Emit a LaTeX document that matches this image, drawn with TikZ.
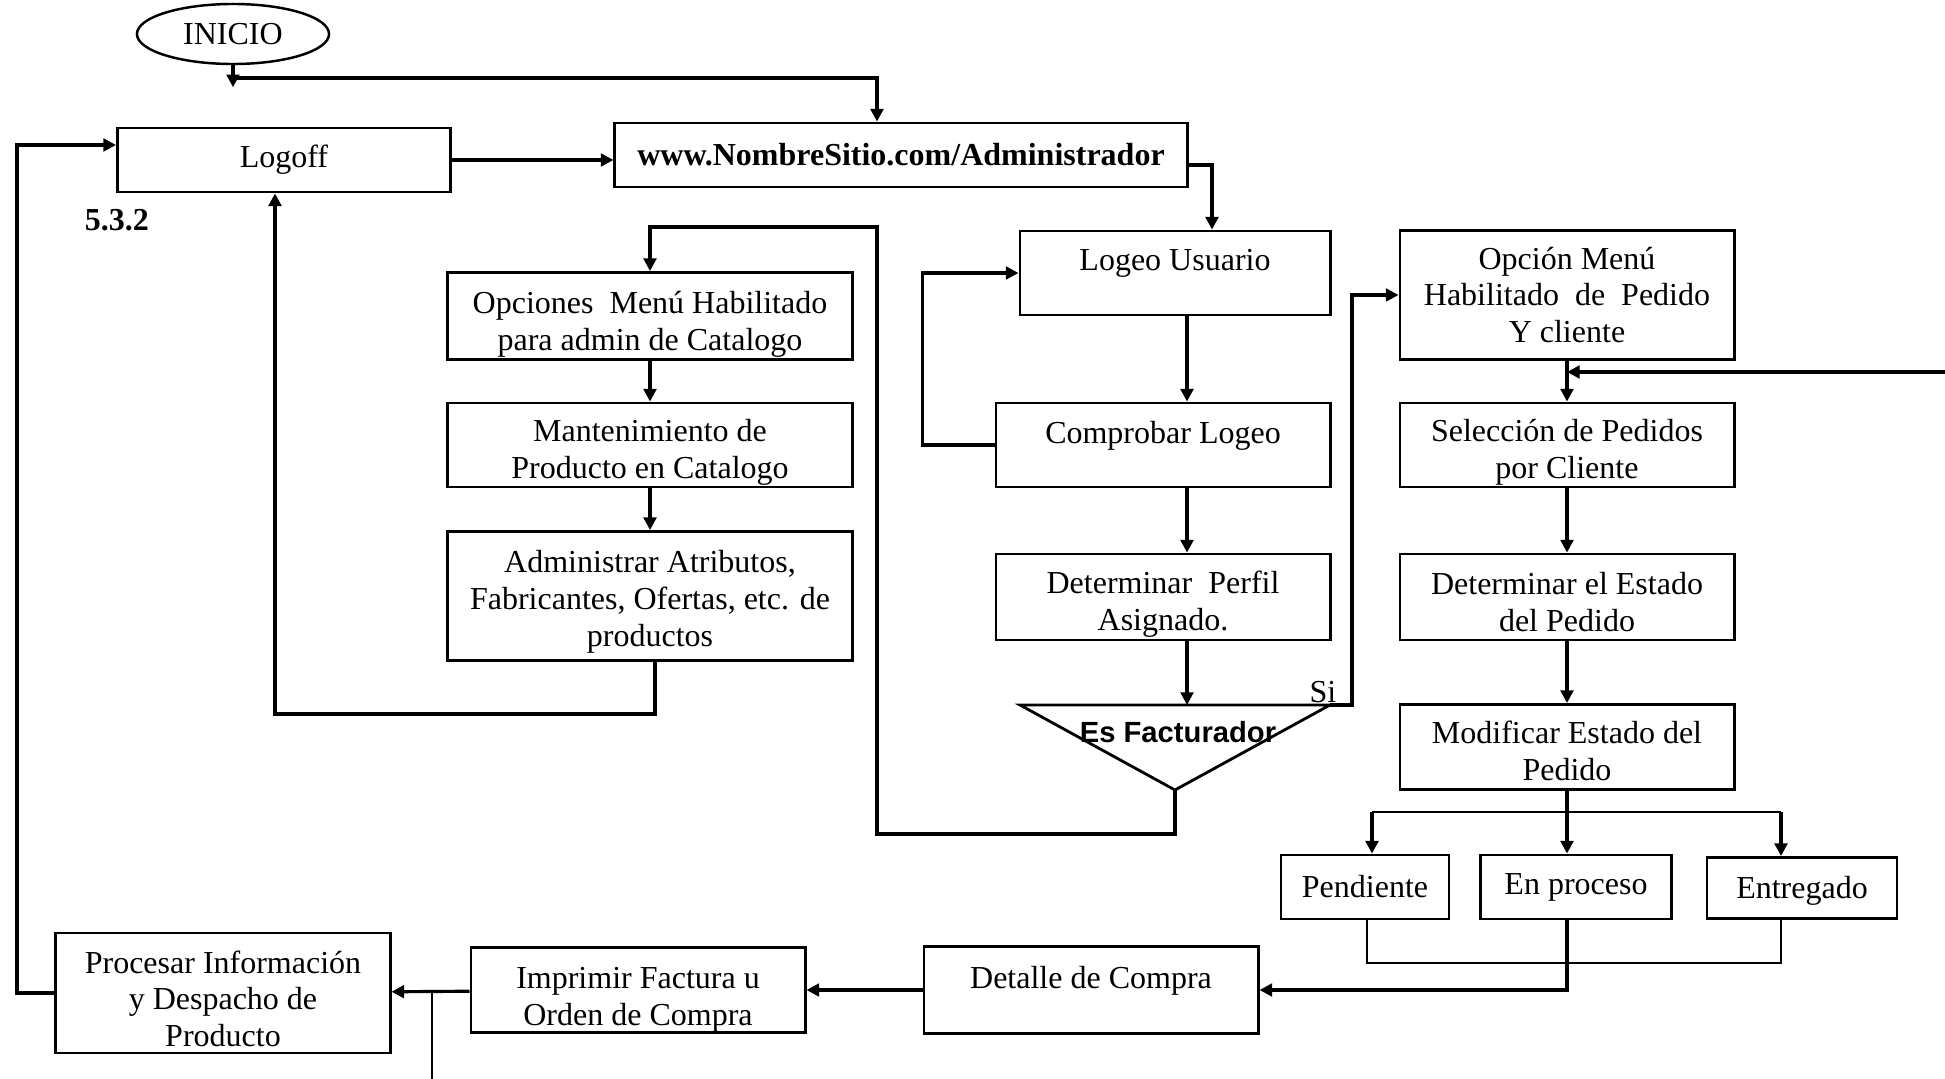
\documentclass[tikz,border=0pt]{standalone}
\usepackage{fontspec}
\setmainfont{Liberation Serif}
\newfontfamily\arialfont{Liberation Sans}
\usetikzlibrary{arrows.meta,positioning,calc,shapes.geometric}

\begin{document}
\begin{tikzpicture}[x=0.01cm, y=-0.01cm,
  box/.style={draw,line width=0.8pt,minimum width=3.34cm,minimum height=0.85cm,align=center,inner xsep=1pt,inner ysep=0pt,font=\fontsize{9.1pt}{10.5pt}\selectfont},
  upper/.style={text depth=0.26cm},
  low/.style={text height=#1},
  arr/.style={-{Stealth[inset=0pt,length=3.6pt,width=3.6pt]},line width=0.9pt},
  link/.style={line width=0.7pt},
]
  \useasboundingbox (0,0) rectangle (1945,1079);

  % start and login
  \node[draw,ellipse,line width=0.7pt,minimum width=1.92cm,minimum height=0.6cm,inner sep=0pt,font=\fontsize{9.1pt}{10.5pt}\selectfont] (inicio) at (233,34) {INICIO};
  \node[box,minimum width=3.33cm,minimum height=0.64cm] (logoff) at (284,160) {Logoff};
  \node[box,minimum width=5.72cm,minimum height=0.64cm,font=\fontsize{9.1pt}{10.5pt}\selectfont\bfseries] (www) at (901,155) {www.NombreSitio.com/Administrador};
  \node[font=\fontsize{9.1pt}{10.5pt}\selectfont\bfseries] (num) at (117,220) {5.3.2};

  % catalogo column
  \node[box,low=0.76cm,minimum width=4.05cm,minimum height=0.87cm] (opc) at (650,316) {Opciones\ \ Menú Habilitado\\para admin de Catalogo};
  \node[box,low=0.74cm,minimum width=4.05cm,minimum height=0.84cm] (mant) at (650,445) {Mantenimiento de\\Producto en Catalogo};
  \node[box,low=1.08cm,minimum width=4.05cm,minimum height=1.29cm] (admin) at (650,596) {Administrar Atributos,\\Fabricantes, Ofertas, etc. de\\productos};

  % login column
  \node[box,upper,minimum width=3.10cm,minimum height=0.84cm] (logeo) at (1175,273) {Logeo Usuario};
  \node[box,upper,minimum height=0.84cm] (comp) at (1163,445) {Comprobar Logeo};
  \node[box,low=0.73cm,minimum height=0.86cm] (perfil) at (1163,597) {Determinar\ \ Perfil\\Asignado.};
  \coordinate (tl) at (1020,705);
  \coordinate (tr) at (1330,705);
  \coordinate (ta) at (1175,790);
  \draw[line width=0.8pt] (tl) -- (tr) -- (ta) -- cycle;
  \node[font=\arialfont\bfseries\fontsize{8.3pt}{10pt}\selectfont] (fact) at (1178,732) {Es Facturador};
  \node[font=\fontsize{9.1pt}{10.5pt}\selectfont] (si) at (1323,692) {Si};

  % pedidos column
  \node[box,minimum height=1.29cm] (menu) at (1567,295) {Opción Menú\\Habilitado\ \ de\ \ Pedido\\Y cliente};
  \node[box,low=0.74cm,minimum height=0.84cm] (sel) at (1567,445) {Selección de Pedidos\\por Cliente};
  \node[box,low=0.69cm,minimum height=0.86cm] (estado) at (1567,597) {Determinar el Estado\\del Pedido};
  \node[box,low=0.68cm] (modif) at (1567,747) {Modificar Estado del\\Pedido};
  \node[box,minimum width=1.68cm,minimum height=0.64cm] (pend) at (1365,887) {Pendiente};
  \node[box,minimum width=1.91cm,minimum height=0.64cm] (enproc) at (1576,887) {En proceso};
  \node[box,low=0.28cm,minimum width=1.90cm,minimum height=0.61cm] (entr) at (1802,888) {Entregado};

  % bottom row
  \node[box,upper,minimum height=0.87cm] (detalle) at (1091,990) {Detalle de Compra};
  \node[box,low=0.78cm] (factura) at (638,990) {Imprimir Factura u\\Orden de Compra};
  \node[box,low=1.08cm,minimum height=1.20cm] (despacho) at (223,993) {Procesar Información\\y Despacho de\\Producto};

  % connectors
  \coordinate (ini) at (233,78);
  \coordinate (jn) at (877,78);
  \draw[arr] (inicio.south) -- ++(0,22);
  \draw[arr] (ini) -- (jn) -- (jn |- www.north);
  \draw[arr] (logoff.east) -- (logoff.east -| www.west);
  \coordinate (wl) at (1212,165);
  \draw[arr] (wl -| www.east) -- (wl) -- (wl |- logeo.north);
  \coordinate (cx) at (1187,0);
  \draw[arr] (cx |- logeo.south) -- (cx |- comp.north);
  \draw[arr] (cx |- comp.south) -- (cx |- perfil.north);
  \draw[arr] (cx |- perfil.south) -- (cx |- tl);
  \draw[arr] (comp.west) -- ++(-72,0) |- (logeo.west);
  \draw[arr] (tr) -- ++(22,0) |- (menu.west);
  \draw[arr] (ta) -- ++(0,44) -| (877,227) -| (opc.north);
  \draw[arr] (opc) -- (mant);
  \draw[arr] (mant) -- (admin);
  \coordinate (ab) at (655,714);
  \coordinate (lb) at (275,714);
  \draw[arr] (ab |- admin.south) -- (ab) -- (lb) -- (lb |- logoff.south);

  \draw[arr] (menu) -- (sel);
  \draw[arr] (sel) -- (estado);
  \draw[arr] (estado) -- (modif);
  \coordinate (rin) at (1945,372);
  \draw[arr] (rin) -- (rin -| sel.north);
  \coordinate (sl) at (1372,812);
  \coordinate (sr) at (1781,812);
  \draw[link] (sl) -- (sr);
  \draw[arr] (modif.south) -- (modif.south |- enproc.north);
  \draw[arr] (sl) -- (sl |- pend.north);
  \draw[arr] (sr) -- (sr |- entr.north);
  \coordinate (ul) at (1367,963);
  \coordinate (ur) at (1781,963);
  \draw[link] (ul |- pend.south) -- (ul) -- (ur) -- (ur |- entr.south);
  \draw[arr] (modif.south |- enproc.south) |- (detalle.east);

  \draw[arr] (detalle) -- (factura);
  \draw[arr] (factura) -- (despacho);
  \coordinate (vb) at (432,1079);
  \draw[link] (vb) -- (vb |- factura.west);
  \coordinate (lx) at (17,145);
  \draw[arr] (despacho.west) -- (lx |- despacho.west) -- (lx) -- (lx -| logoff.west);
\end{tikzpicture}
\end{document}
